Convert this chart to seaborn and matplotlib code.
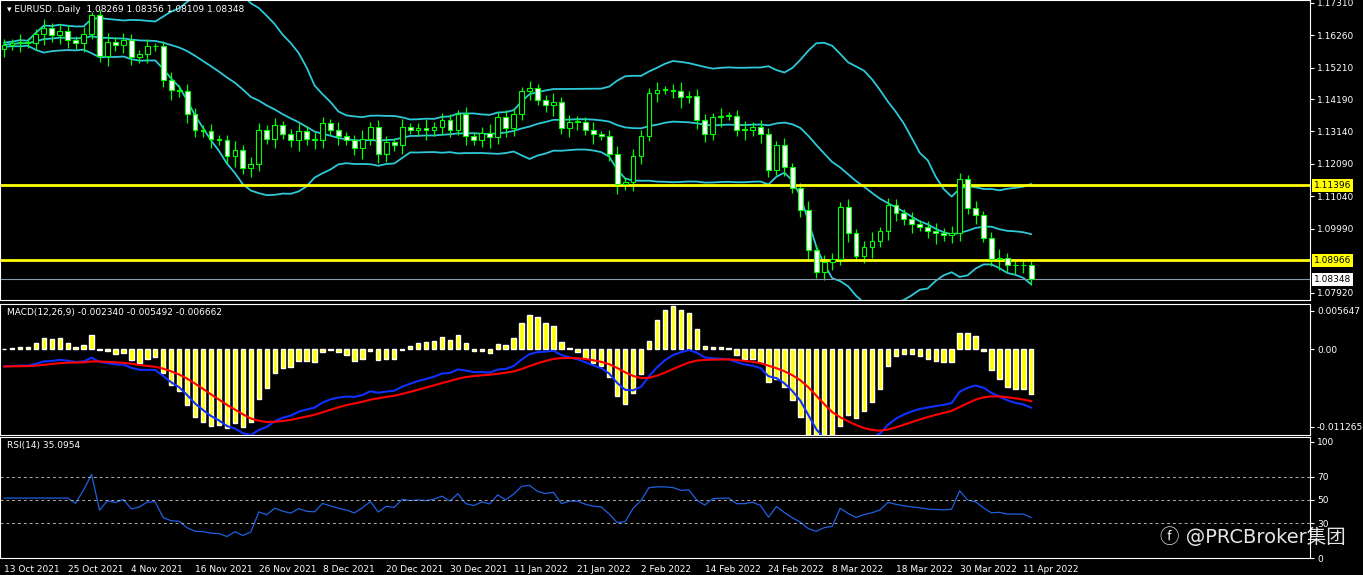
import numpy as np
import pandas as pd
import matplotlib
matplotlib.use("Agg")
import matplotlib.pyplot as plt
import seaborn as sns

closes = [
    1.1595, 1.1600, 1.1605, 1.1600, 1.1630, 1.1650, 1.1625, 1.1640,
    1.1610, 1.1600, 1.1630, 1.1690, 1.1560, 1.1605, 1.1595, 1.1610,
    1.1555, 1.1565, 1.1590, 1.1590, 1.1480, 1.1450, 1.1445, 1.1370,
    1.1320, 1.1315, 1.1290, 1.1285, 1.1235, 1.1255, 1.1195, 1.1210,
    1.1320, 1.1290, 1.1335, 1.1305, 1.1285, 1.1315, 1.1290, 1.1285,
    1.1340, 1.1320, 1.1300, 1.1285, 1.1260, 1.1290, 1.1330, 1.1240,
    1.1280, 1.1270, 1.1330, 1.1320, 1.1325, 1.1320, 1.1330, 1.1350,
    1.1320, 1.1370, 1.1300, 1.1285, 1.1310, 1.1295, 1.1360, 1.1325,
    1.1370, 1.1445, 1.1455, 1.1415, 1.1400, 1.1410, 1.1325, 1.1345,
    1.1345, 1.1320, 1.1305, 1.1300, 1.1240, 1.1145, 1.1150, 1.1235,
    1.1300, 1.1440, 1.1450, 1.1450, 1.1445, 1.1425, 1.1430, 1.1350,
    1.1305, 1.1360, 1.1365, 1.1365, 1.1320, 1.1320, 1.1330, 1.1305,
    1.1190, 1.1270, 1.1200, 1.1130, 1.1060, 1.0930, 1.0860, 1.0890,
    1.0900, 1.1070, 1.0985, 1.0910, 1.0940, 1.0960, 1.0990, 1.1075,
    1.1050, 1.1030, 1.1015, 1.1005, 1.0990, 1.0985, 1.0980, 1.0985,
    1.1160, 1.1065, 1.1045, 1.0970, 1.0900, 1.0905, 1.0880, 1.0880,
    1.0880, 1.0835,
]
wicks = [0.0025, 0.0018, 0.0030, 0.0015, 0.0022, 0.0035, 0.0020, 0.0028]
date_labels = ["13 Oct 2021", "25 Oct 2021", "4 Nov 2021", "16 Nov 2021", "26 Nov 2021",
               "8 Dec 2021", "20 Dec 2021", "30 Dec 2021", "11 Jan 2022", "21 Jan 2022",
               "2 Feb 2022", "14 Feb 2022", "24 Feb 2022", "8 Mar 2022", "18 Mar 2022",
               "30 Mar 2022", "11 Apr 2022"]
price_ticks = [1.17310, 1.16260, 1.15210, 1.14190, 1.13140, 1.12090, 1.11040, 1.09990, 1.07920]
levels = [1.11396, 1.08966]
last_price = 1.08348
macd_ticks = [0.005647, 0.0, -0.011265]
rsi_ticks = [100, 70, 50, 30, 0]

df = pd.DataFrame({"close": closes})
df["i"] = np.arange(len(df))
df["open"] = df["close"].shift(1).fillna(1.1580)
w = np.array([wicks[k % len(wicks)] for k in range(len(df))])
df["high"] = df[["open", "close"]].max(axis=1) + w * 0.8
df["low"] = df[["open", "close"]].min(axis=1) - w
mid = df["close"].rolling(20, min_periods=1).mean()
sd = df["close"].rolling(20, min_periods=2).std().bfill()
df["mid"], df["up"], df["dn"] = mid, mid + 2 * sd, mid - 2 * sd
ema = lambda s, n: s.ewm(span=n, adjust=False).mean()
df["hist"] = (ema(df["close"], 5) - ema(df["close"], 13)) * 1.2
df["blue"] = ema(df["close"], 12) - ema(df["close"], 26) - 0.0025
df["red"] = ema(df["blue"], 9)
d = df["close"].diff().fillna(0)
gain = d.clip(lower=0).ewm(alpha=1 / 14, min_periods=1, adjust=True).mean()
loss = (-d.clip(upper=0)).ewm(alpha=1 / 14, min_periods=1, adjust=True).mean()
rsi = 100 - 100 / (1 + gain / loss.replace(0, 1e-9))
rsi[:8] = np.nan
df["rsi"] = rsi.bfill()

sns.set_style("dark")
plt.rcParams["font.family"] = ["DejaVu Sans", "Noto Sans CJK SC"]
fig = plt.figure(figsize=(13.63, 5.75), dpi=100, facecolor="black")
W = 1310 / 1363
H = 575
axp = fig.add_axes([0, 1 - 300 / H, W, 300 / H])
axm = fig.add_axes([0, 1 - 435 / H, W, 131 / H])
axr = fig.add_axes([0, 1 - 558 / H, W, 121 / H])
xlim = (-0.5, 164)
for ax in (axp, axm, axr):
    ax.set_facecolor("black")
    for s in ax.spines.values():
        s.set_color("white")
        s.set_linewidth(0.8)
    ax.yaxis.tick_right()
    ax.tick_params(colors="white", labelsize=6.5, length=3, direction="out", pad=2)
    ax.grid(False)

# candles
up = df["close"] >= df["open"]
axp.vlines(df["i"], df["low"], df["high"], color="lime", lw=0.9, zorder=2)
axp.bar(df["i"], (df["close"] - df["open"]).abs().clip(lower=0.0002),
        bottom=df[["open", "close"]].min(axis=1), width=0.6,
        color=np.where(up, "black", "white"), edgecolor="lime", lw=0.8, zorder=3)
for c in ("up", "mid", "dn"):
    sns.lineplot(data=df, x="i", y=c, ax=axp, color="#2ec8d8", lw=1.3, zorder=1)
for lv in levels:
    axp.axhline(lv, color="yellow", lw=2)
    axp.text(1.003, lv, f"{lv:.5f}", transform=axp.get_yaxis_transform(), va="center",
             fontsize=6.5, color="black", bbox=dict(fc="yellow", ec="none", pad=1.5))
axp.axhline(last_price, color="#8a9aa8", lw=0.8)
axp.text(1.003, last_price, f"{last_price:.5f}", transform=axp.get_yaxis_transform(), va="center",
         fontsize=6.5, color="black", bbox=dict(fc="white", ec="none", pad=1.5))
axp.set_ylim(1.0768, 1.1740)
axp.set_yticks(price_ticks)
axp.set_yticklabels([f"{t:.5f}" for t in price_ticks])
axp.text(0.005, 0.985, "▾ EURUSD..Daily  1.08269 1.08356 1.08109 1.08348", transform=axp.transAxes,
         color="white", fontsize=6.5, va="top")

# macd
axm.bar(df["i"], df["hist"], width=0.55, color="yellow", zorder=2)
sns.lineplot(data=df, x="i", y="blue", ax=axm, color="#1030ff", lw=1.5, zorder=3)
sns.lineplot(data=df, x="i", y="red", ax=axm, color="red", lw=1.5, zorder=3)
axm.set_ylim(-0.0125, 0.0066)
axm.set_yticks(macd_ticks)
axm.set_yticklabels(["0.005647", "0.00", "-0.011265"])
axm.text(0.005, 0.97, "MACD(12,26,9) -0.002340 -0.005492 -0.006662", transform=axm.transAxes,
         color="white", fontsize=6.5, va="top")

# rsi
sns.lineplot(data=df, x="i", y="rsi", ax=axr, color="#2060e0", lw=0.9)
for lv in (70, 50, 30):
    axr.axhline(lv, color="#b0b0b0", lw=0.7, ls=(0, (3, 3)))
axr.set_ylim(0, 104)
axr.set_yticks(rsi_ticks)
axr.text(0.005, 0.97, "RSI(14) 35.0954", transform=axr.transAxes, color="white", fontsize=6.5, va="top")

for ax in (axp, axm, axr):
    ax.set_xlim(*xlim)
    ax.set_xlabel("")
    ax.set_ylabel("")
    ax.set_xticks([])
axr.set_xticks(np.arange(len(date_labels)) * 8)
axr.set_xticklabels(date_labels, ha="left")
axr.tick_params(axis="x", length=3, labelsize=6.5, colors="white")

fig.text(0.851, 0.066, "ⓕ @PRCBroker集团", color="white", fontsize=14, alpha=0.9,
         family=["DejaVu Sans", "Noto Sans CJK SC"], va="center")
fig.savefig("out.png", dpi=100, facecolor="black")
